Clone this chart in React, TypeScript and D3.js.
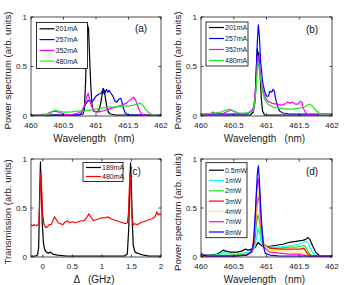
import React from "react";
import * as d3 from "d3";

type Pt = [number, number];

const wlTicks = [460, 460.5, 461, 461.5, 462];
const deltaTicks = [0, 0.5, 1, 1.5, 2];
const yTicks = [0, 0.5, 1];

// panel (a): spectra at different currents
const a201: Pt[] = [[460,0.01],[460.3,0.01],[460.6,0.01],[460.75,0.01],[460.8,0.02],[460.82,0.06],[460.84,0.35],[460.86,0.82],[460.87,0.92],[460.885,0.88],[460.9,0.62],[460.92,0.3],[460.94,0.1],[460.96,0.05],[461.0,0.04],[461.04,0.05],[461.07,0.12],[461.09,0.2],[461.11,0.28],[461.13,0.25],[461.15,0.16],[461.17,0.08],[461.19,0.04],[461.22,0.02],[461.3,0.01],[462,0.01]];
const a257: Pt[] = [[460,0.01],[460.5,0.01],[460.7,0.01],[460.76,0.02],[460.8,0.06],[460.84,0.12],[460.88,0.16],[460.92,0.14],[460.96,0.16],[461.0,0.2],[461.04,0.22],[461.08,0.23],[461.1,0.26],[461.13,0.22],[461.16,0.27],[461.18,0.24],[461.2,0.26],[461.23,0.23],[461.26,0.2],[461.29,0.15],[461.32,0.14],[461.35,0.17],[461.38,0.18],[461.4,0.14],[461.42,0.08],[461.45,0.03],[461.5,0.01],[462,0.01]];
const a352: Pt[] = [[460,0.01],[460.25,0.02],[460.3,0.04],[460.36,0.05],[460.42,0.04],[460.5,0.02],[460.6,0.01],[460.72,0.03],[460.78,0.05],[460.82,0.1],[460.86,0.2],[460.88,0.23],[460.9,0.18],[460.93,0.1],[460.97,0.05],[461.02,0.04],[461.1,0.05],[461.2,0.07],[461.3,0.09],[461.4,0.11],[461.47,0.13],[461.52,0.16],[461.56,0.18],[461.58,0.19],[461.61,0.16],[461.64,0.1],[461.68,0.04],[461.72,0.01],[462,0.01]];
const a480: Pt[] = [[460,0.01],[460.2,0.01],[460.3,0.02],[460.34,0.05],[460.37,0.06],[460.42,0.05],[460.5,0.04],[460.6,0.04],[460.7,0.05],[460.8,0.05],[460.9,0.06],[461.0,0.07],[461.1,0.08],[461.2,0.09],[461.3,0.09],[461.4,0.1],[461.5,0.1],[461.58,0.11],[461.64,0.12],[461.68,0.13],[461.72,0.11],[461.76,0.07],[461.8,0.04],[461.85,0.02],[461.9,0.01],[462,0.01]];

// panel (b)
const b201: Pt[] = [[460,0.01],[460.5,0.01],[460.75,0.01],[460.8,0.04],[460.83,0.2],[460.85,0.55],[460.86,0.68],[460.87,0.62],[460.88,0.64],[460.9,0.45],[460.92,0.18],[460.94,0.05],[460.97,0.01],[462,0.01]];
const b257: Pt[] = [[460,0.02],[460.3,0.02],[460.5,0.02],[460.7,0.02],[460.78,0.05],[460.82,0.12],[460.84,0.4],[460.86,0.75],[460.875,0.92],[460.89,0.82],[460.91,0.55],[460.94,0.35],[460.97,0.25],[461.0,0.2],[461.03,0.2],[461.05,0.25],[461.08,0.24],[461.1,0.27],[461.12,0.25],[461.14,0.17],[461.17,0.1],[461.2,0.05],[461.25,0.03],[461.35,0.02],[462,0.02]];
const b352: Pt[] = [[460,0.02],[460.15,0.02],[460.18,0.04],[460.22,0.02],[460.35,0.03],[460.42,0.05],[460.46,0.06],[460.52,0.04],[460.6,0.02],[460.72,0.03],[460.8,0.07],[460.84,0.3],[460.86,0.55],[460.88,0.6],[460.9,0.45],[460.93,0.3],[460.97,0.2],[461.02,0.15],[461.08,0.13],[461.15,0.12],[461.22,0.11],[461.28,0.12],[461.32,0.14],[461.36,0.13],[461.4,0.14],[461.44,0.12],[461.48,0.12],[461.52,0.15],[461.54,0.14],[461.56,0.08],[461.6,0.03],[461.65,0.01],[462,0.01]];
const b480: Pt[] = [[460,0.02],[460.2,0.03],[460.3,0.04],[460.38,0.06],[460.44,0.07],[460.5,0.05],[460.58,0.03],[460.7,0.03],[460.8,0.05],[460.84,0.25],[460.86,0.5],[460.875,0.54],[460.9,0.42],[460.93,0.28],[460.97,0.17],[461.02,0.12],[461.1,0.09],[461.2,0.08],[461.3,0.07],[461.4,0.07],[461.5,0.08],[461.58,0.09],[461.63,0.11],[461.66,0.12],[461.7,0.1],[461.75,0.06],[461.8,0.03],[461.85,0.01],[462,0.01]];

// panel (c): transmission vs detuning
const c189: Pt[] = [[-0.2,0.01],[-0.12,0.01],[-0.09,0.02],[-0.07,0.1],[-0.055,0.6],[-0.04,0.97],[-0.025,0.7],[-0.01,0.35],[0.01,0.15],[0.03,0.08],[0.06,0.05],[0.1,0.04],[0.13,0.05],[0.17,0.03],[0.25,0.02],[0.4,0.01],[0.6,0.01],[0.8,0.01],[1.0,0.01],[1.2,0.01],[1.38,0.01],[1.43,0.03],[1.455,0.3],[1.47,0.7],[1.485,0.96],[1.5,0.7],[1.515,0.35],[1.53,0.12],[1.56,0.05],[1.6,0.04],[1.64,0.03],[1.7,0.02],[1.8,0.01],[2,0.01]];
const c480: Pt[] = [[-0.2,0.33],[-0.17,0.32],[-0.14,0.33],[-0.11,0.32],[-0.08,0.33],[-0.065,0.36],[-0.05,0.6],[-0.035,0.86],[-0.02,0.7],[-0.005,0.45],[0.02,0.33],[0.05,0.3],[0.08,0.31],[0.11,0.33],[0.14,0.33],[0.17,0.37],[0.2,0.41],[0.23,0.38],[0.26,0.35],[0.3,0.34],[0.34,0.33],[0.38,0.36],[0.42,0.37],[0.46,0.35],[0.5,0.36],[0.55,0.35],[0.6,0.36],[0.65,0.37],[0.7,0.37],[0.74,0.4],[0.78,0.44],[0.82,0.4],[0.86,0.37],[0.9,0.38],[0.95,0.39],[1.0,0.4],[1.05,0.4],[1.1,0.41],[1.15,0.39],[1.2,0.38],[1.25,0.37],[1.3,0.36],[1.35,0.35],[1.4,0.34],[1.43,0.35],[1.45,0.45],[1.465,0.72],[1.48,0.85],[1.495,0.6],[1.51,0.4],[1.53,0.33],[1.56,0.34],[1.6,0.33],[1.65,0.35],[1.7,0.36],[1.75,0.37],[1.8,0.38],[1.85,0.39],[1.9,0.41],[1.93,0.46],[1.95,0.43],[1.98,0.44],[2.0,0.43]];

// panel (d): spectra at different powers
const d05: Pt[] = [[460,0.02],[460.15,0.02],[460.25,0.03],[460.3,0.05],[460.34,0.07],[460.38,0.06],[460.45,0.05],[460.55,0.05],[460.62,0.06],[460.68,0.08],[460.72,0.07],[460.78,0.08],[460.83,0.1],[460.87,0.15],[460.9,0.13],[460.94,0.11],[460.98,0.1],[461.05,0.11],[461.15,0.12],[461.25,0.13],[461.35,0.15],[461.45,0.16],[461.55,0.17],[461.6,0.18],[461.63,0.2],[461.66,0.18],[461.7,0.12],[461.75,0.05],[461.8,0.02],[461.85,0.01],[462,0.01]];
const d1: Pt[] = [[460,0.01],[460.2,0.02],[460.3,0.03],[460.35,0.05],[460.4,0.04],[460.5,0.03],[460.65,0.04],[460.75,0.05],[460.82,0.1],[460.85,0.2],[460.87,0.29],[460.89,0.25],[460.92,0.15],[460.96,0.1],[461.05,0.1],[461.2,0.1],[461.3,0.11],[461.4,0.12],[461.5,0.13],[461.57,0.15],[461.6,0.16],[461.63,0.15],[461.66,0.1],[461.7,0.05],[461.75,0.02],[461.8,0.01],[462,0.01]];
const d2: Pt[] = [[460,0.01],[460.3,0.02],[460.5,0.02],[460.7,0.03],[460.78,0.05],[460.82,0.15],[460.85,0.35],[460.87,0.43],[460.89,0.38],[460.92,0.2],[460.96,0.11],[461.05,0.09],[461.2,0.09],[461.35,0.1],[461.45,0.1],[461.52,0.11],[461.57,0.12],[461.6,0.1],[461.63,0.06],[461.66,0.03],[461.7,0.01],[462,0.01]];
const d3mw: Pt[] = [[460,0.01],[460.5,0.01],[460.7,0.02],[460.78,0.05],[460.82,0.2],[460.85,0.5],[460.87,0.64],[460.89,0.56],[460.92,0.3],[460.96,0.13],[461.05,0.09],[461.2,0.08],[461.35,0.08],[461.45,0.08],[461.52,0.08],[461.57,0.09],[461.6,0.06],[461.63,0.03],[461.68,0.01],[462,0.01]];
const d4: Pt[] = [[460,0.01],[460.5,0.01],[460.7,0.02],[460.78,0.05],[460.82,0.25],[460.85,0.55],[460.87,0.67],[460.89,0.6],[460.92,0.33],[460.96,0.12],[461.05,0.07],[461.2,0.06],[461.35,0.06],[461.45,0.05],[461.52,0.06],[461.56,0.04],[461.6,0.02],[461.65,0.01],[462,0.01]];
const d7: Pt[] = [[460,0.01],[460.5,0.01],[460.7,0.02],[460.78,0.05],[460.82,0.3],[460.85,0.68],[460.87,0.8],[460.89,0.7],[460.92,0.35],[460.96,0.1],[461.05,0.05],[461.2,0.04],[461.35,0.03],[461.45,0.03],[461.52,0.03],[461.56,0.02],[461.62,0.01],[462,0.01]];
const d8: Pt[] = [[460,0.04],[460.03,0.02],[460.1,0.01],[460.5,0.01],[460.7,0.02],[460.76,0.05],[460.8,0.12],[460.83,0.45],[460.86,0.85],[460.875,0.93],[460.89,0.8],[460.92,0.4],[460.95,0.12],[460.98,0.04],[461.05,0.02],[461.2,0.01],[462,0.01]];

const currentNames = ["201mA", "257mA", "352mA", "480mA"];
const currentColors = ["#000000", "#0000ff", "#ff00ff", "#22e622"];
const cNames = ["189mA", "480mA"];
const cColors = ["#000000", "#ff0000"];
const powerNames = ["0.5mW", "1mW", "2mW", "3mW", "4mW", "7mW", "8mW"];
const powerColors = ["#000000", "#00ffff", "#22e622", "#ff0000", "#ffff00", "#ff00ff", "#0000ff"];

const FONT = "'Liberation Sans', Arial, sans-serif";

type Series = { name: string; color: string; data: Pt[] };

type PanelProps = {
  id: string;
  left: number;
  right: number;
  top: number;
  bottom: number;
  xDomain: [number, number];
  xTicks: number[];
  xLabel: string;
  yLabel: string;
  series: Series[];
  tag: string;
  tagPos: [number, number];
  legend: { x: number; y: number; w: number; h: number; row: number; first: number };
};

const Panel = (p: PanelProps) => {
  const x = d3.scaleLinear().domain(p.xDomain).range([p.left, p.right]);
  const y = d3.scaleLinear().domain([0, 1]).range([p.bottom, p.top]);
  const line = d3
    .line<Pt>()
    .x((d) => x(d[0]))
    .y((d) => y(d[1]));
  const tl = 2.5;
  const lg = p.legend;
  return (
    <g>
      <defs>
        <clipPath id={`clip-${p.id}`}>
          <rect x={p.left} y={p.top} width={p.right - p.left} height={p.bottom - p.top} />
        </clipPath>
      </defs>
      <rect x={p.left} y={p.top} width={p.right - p.left} height={p.bottom - p.top} fill="white" />
      <g clipPath={`url(#clip-${p.id})`}>
        {p.series.map((s) => (
          <path key={s.name} d={line(s.data) || ""} fill="none" stroke={s.color} strokeWidth={1.2} strokeLinejoin="round" />
        ))}
      </g>
      {/* box and inside ticks */}
      <rect x={p.left} y={p.top} width={p.right - p.left} height={p.bottom - p.top} fill="none" stroke="#000" strokeWidth={0.7} />
      {p.xTicks.map((t) => (
        <g key={`x${t}`}>
          <line x1={x(t)} x2={x(t)} y1={p.bottom} y2={p.bottom - tl} stroke="#000" strokeWidth={0.7} />
          <line x1={x(t)} x2={x(t)} y1={p.top} y2={p.top + tl} stroke="#000" strokeWidth={0.7} />
          <text x={x(t)} y={p.bottom + 12} textAnchor="middle" fontSize={8} fontFamily={FONT} fill="#222">
            {t}
          </text>
        </g>
      ))}
      {yTicks.map((t) => (
        <g key={`y${t}`}>
          <line x1={p.left} x2={p.left + tl} y1={y(t)} y2={y(t)} stroke="#000" strokeWidth={0.7} />
          <line x1={p.right} x2={p.right - tl} y1={y(t)} y2={y(t)} stroke="#000" strokeWidth={0.7} />
          <text x={p.left - 4} y={y(t) + 2.5} textAnchor="end" fontSize={8} fontFamily={FONT} fill="#222">
            {t}
          </text>
        </g>
      ))}
      <text
        x={(p.left + p.right) / 2 - 2}
        y={p.bottom + 26}
        textAnchor="middle"
        fontSize={10}
        fontFamily={FONT}
        fill="#222"
        style={{ whiteSpace: "pre" }}
      >
        {p.xLabel}
      </text>
      <text
        transform={`translate(${p.left - 20},${(p.top + p.bottom) / 2 + 4}) rotate(-90)`}
        textAnchor="middle"
        fontSize={9.6}
        fontFamily={FONT}
        fill="#222"
      >
        {p.yLabel}
      </text>
      <text x={p.tagPos[0]} y={p.tagPos[1]} textAnchor="middle" fontSize={10} fontFamily={FONT} fill="#111">
        {p.tag}
      </text>
      {/* legend */}
      <rect x={lg.x} y={lg.y} width={lg.w} height={lg.h} fill="white" stroke="#000" strokeWidth={0.8} />
      {p.series.map((s, i) => {
        const yy = lg.y + lg.first + i * lg.row;
        return (
          <g key={`l${s.name}`}>
            <line x1={lg.x + 3} x2={lg.x + 18} y1={yy} y2={yy} stroke={s.color} strokeWidth={1.2} />
            <text x={lg.x + 19} y={yy + 2.5} fontSize={7} fontFamily={FONT} fill="#222">
              {s.name}
            </text>
          </g>
        );
      })}
    </g>
  );
};

const mk = (names: string[], colors: string[], data: Pt[][]): Series[] =>
  names.map((n, i) => ({ name: n, color: colors[i], data: data[i] }));

export default function App() {
  const yPow = "Power spectrum (arb. units)";
  const xWl = "Wavelength   (nm)";
  return (
    <svg
      width={354}
      height={285}
      style={{ position: "absolute", left: 0, top: 0, background: "white" }}
    >
      <Panel
        id="a"
        left={31}
        right={161}
        top={17}
        bottom={116}
        xDomain={[460, 462]}
        xTicks={wlTicks}
        xLabel={xWl}
        yLabel={yPow}
        series={mk(currentNames, currentColors, [a201, a257, a352, a480])}
        tag="(a)"
        tagPos={[141, 32]}
        legend={{ x: 36.5, y: 22.5, w: 51, h: 46, row: 10.8, first: 6.3 }}
      />
      <Panel
        id="b"
        left={201}
        right={332}
        top={17}
        bottom={116}
        xDomain={[460, 462]}
        xTicks={wlTicks}
        xLabel={xWl}
        yLabel={yPow}
        series={mk(currentNames, currentColors, [b201, b257, b352, b480])}
        tag="(b)"
        tagPos={[312, 33]}
        legend={{ x: 206, y: 22, w: 42, h: 44, row: 11, first: 5.5 }}
      />
      <Panel
        id="c"
        left={31}
        right={161}
        top={159}
        bottom={257}
        xDomain={[-0.2, 2]}
        xTicks={deltaTicks}
        xLabel={"Δ   (GHz)"}
        yLabel="Transmission (arb. units)"
        series={mk(cNames, cColors, [c189, c480])}
        tag="(c)"
        tagPos={[135, 175]}
        legend={{ x: 83, y: 162.5, w: 40, h: 19, row: 9, first: 5 }}
      />
      <Panel
        id="d"
        left={201}
        right={332}
        top={159}
        bottom={257}
        xDomain={[460, 462]}
        xTicks={wlTicks}
        xLabel={xWl}
        yLabel={yPow}
        series={mk(powerNames, powerColors, [d05, d1, d2, d3mw, d4, d7, d8])}
        tag="(d)"
        tagPos={[312, 175]}
        legend={{ x: 206, y: 162.7, w: 41, h: 75, row: 10.3, first: 7.5 }}
      />
    </svg>
  );
}
